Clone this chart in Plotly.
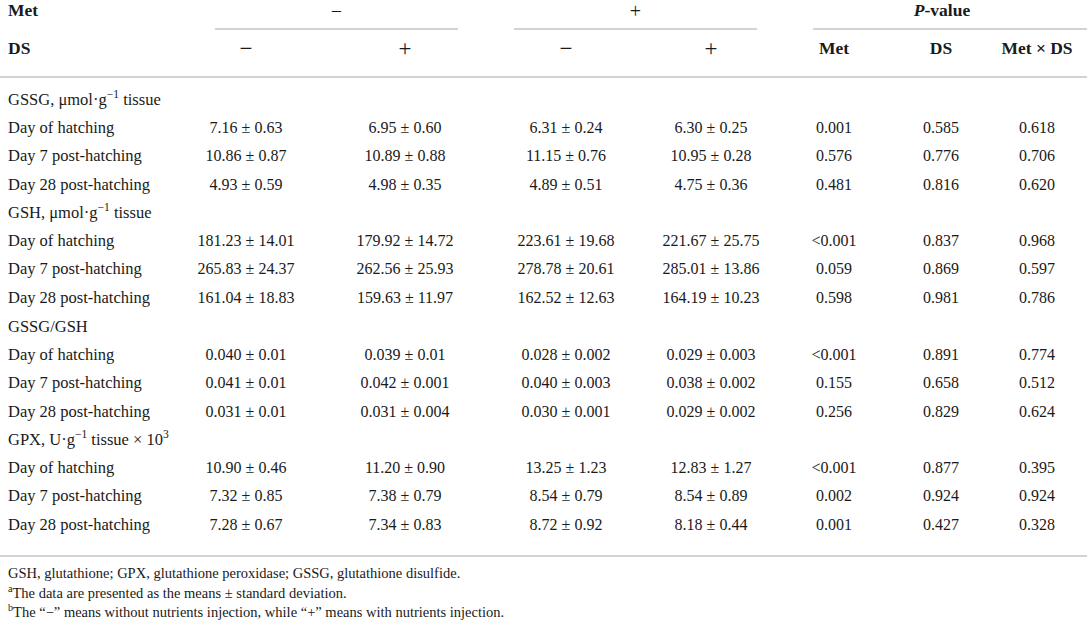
import plotly.graph_objects as go

# ---------------- data ----------------
met_levels = ["−", "+"]
ds_levels = ["−", "+", "−", "+"]
pvalue_heads = ["Met", "DS", "Met × DS"]

sections = [
    "GSSG, μmol·g<sup>−1</sup> tissue",
    "GSH, μmol·g<sup>−1</sup> tissue",
    "GSSG/GSH",
    "GPX, U·g<sup>−1</sup> tissue × 10<sup>3</sup>",
]
days = ["Day of hatching", "Day 7 post-hatching", "Day 28 post-hatching"]

met_neg_ds_neg = ["7.16 ± 0.63", "10.86 ± 0.87", "4.93 ± 0.59",
                  "181.23 ± 14.01", "265.83 ± 24.37", "161.04 ± 18.83",
                  "0.040 ± 0.01", "0.041 ± 0.01", "0.031 ± 0.01",
                  "10.90 ± 0.46", "7.32 ± 0.85", "7.28 ± 0.67"]
met_neg_ds_pos = ["6.95 ± 0.60", "10.89 ± 0.88", "4.98 ± 0.35",
                  "179.92 ± 14.72", "262.56 ± 25.93", "159.63 ± 11.97",
                  "0.039 ± 0.01", "0.042 ± 0.001", "0.031 ± 0.004",
                  "11.20 ± 0.90", "7.38 ± 0.79", "7.34 ± 0.83"]
met_pos_ds_neg = ["6.31 ± 0.24", "11.15 ± 0.76", "4.89 ± 0.51",
                  "223.61 ± 19.68", "278.78 ± 20.61", "162.52 ± 12.63",
                  "0.028 ± 0.002", "0.040 ± 0.003", "0.030 ± 0.001",
                  "13.25 ± 1.23", "8.54 ± 0.79", "8.72 ± 0.92"]
met_pos_ds_pos = ["6.30 ± 0.25", "10.95 ± 0.28", "4.75 ± 0.36",
                  "221.67 ± 25.75", "285.01 ± 13.86", "164.19 ± 10.23",
                  "0.029 ± 0.003", "0.038 ± 0.002", "0.029 ± 0.002",
                  "12.83 ± 1.27", "8.54 ± 0.89", "8.18 ± 0.44"]
p_met = ["0.001", "0.576", "0.481", "&lt;0.001", "0.059", "0.598",
         "&lt;0.001", "0.155", "0.256", "&lt;0.001", "0.002", "0.001"]
p_ds = ["0.585", "0.776", "0.816", "0.837", "0.869", "0.981",
        "0.891", "0.658", "0.829", "0.877", "0.924", "0.427"]
p_int = ["0.618", "0.706", "0.620", "0.968", "0.597", "0.786",
         "0.774", "0.512", "0.624", "0.395", "0.924", "0.328"]

footnotes = [
    "GSH, glutathione; GPX, glutathione peroxidase; GSSG, glutathione disulfide.",
    "<sup>a</sup>The data are presented as the means ± standard deviation.",
    "<sup>b</sup>The “−” means without nutrients injection, while “+” means with nutrients injection.",
]

# ---------------- layout (positions / styles) ----------------
W, H = 1091, 626
FONT = "Liberation Serif"
FS_LBL = 16.5
FS_NUM = 16
FS_HEAD = 17.5
FS_SIGN_TOP = 20
FS_SIGN = 23
FS_NOTE = 14.5
TXT = "#1a1a1a"
RULE = "#d3d3d3"

left_x = 8
col_x = [246, 405, 566, 711, 834, 941, 1037]
group_spans = [(215, 458), (514, 757), (813, 1087)]
y_met, y_ds = 12, 50
y_sign_top = 13
y_rule_head, y_rule_sub, y_rule_bottom = 77, 29, 556
section_y = [101, 214, 328, 441]
row_gap = [28, 56, 85]
note_y = [574, 594, 613]

fig = go.Figure()

def add_text(xs, ys, texts, pos="middle center", size=FS_NUM):
    fig.add_trace(go.Scatter(
        x=xs, y=ys, text=texts, mode="text", textposition=pos,
        textfont=dict(family=FONT, size=size, color=TXT),
        hoverinfo="skip", showlegend=False, cliponaxis=False))

# header rows
add_text([left_x, left_x], [y_met, y_ds], ["<b>Met</b>", "<b>DS</b>"],
         pos="middle right", size=FS_HEAD)
add_text([(a + b) / 2 for a, b in group_spans[:2]], [y_sign_top, y_sign_top],
         met_levels, size=FS_SIGN_TOP)
add_text([(group_spans[2][0] + group_spans[2][1]) / 2 - 8], [y_met],
         ["<b><i>P</i>-value</b>"], size=FS_HEAD)
add_text(col_x[:4], [y_ds] * 4, ds_levels, size=FS_SIGN)
add_text(col_x[4:], [y_ds] * 3, ["<b>%s</b>" % h for h in pvalue_heads], size=FS_HEAD)

# body
row_y = []
row_lbl = []
for s, sy in zip(sections, section_y):
    for d, g in zip(days, row_gap):
        row_y.append(sy + g)
        row_lbl.append(d)

add_text([left_x] * len(sections), section_y, sections, pos="middle right", size=FS_LBL)
add_text([left_x] * len(row_lbl), row_y, row_lbl, pos="middle right", size=FS_LBL)
for cx, col in zip(col_x, [met_neg_ds_neg, met_neg_ds_pos, met_pos_ds_neg, met_pos_ds_pos,
                           p_met, p_ds, p_int]):
    add_text([cx] * len(col), row_y, col, size=FS_NUM)

# footnotes
add_text([left_x] * len(footnotes), note_y, footnotes, pos="middle right", size=FS_NOTE)

# rules
for a, b in group_spans:
    fig.add_shape(type="line", x0=a, x1=b, y0=y_rule_sub, y1=y_rule_sub,
                  line=dict(color=RULE, width=2))
for yy in (y_rule_head, y_rule_bottom):
    fig.add_shape(type="line", x0=0, x1=1087, y0=yy, y1=yy,
                  line=dict(color=RULE, width=2))

fig.update_layout(
    width=W, height=H, margin=dict(l=0, r=0, t=0, b=0),
    paper_bgcolor="white", plot_bgcolor="white",
    xaxis=dict(range=[0, W], visible=False, fixedrange=True),
    yaxis=dict(range=[H, 0], visible=False, fixedrange=True),
)

fig.write_html(
    "out.html",
    config={"displayModeBar": False},
    post_script="document.body.style.margin='0';document.body.style.overflow='hidden';",
)
